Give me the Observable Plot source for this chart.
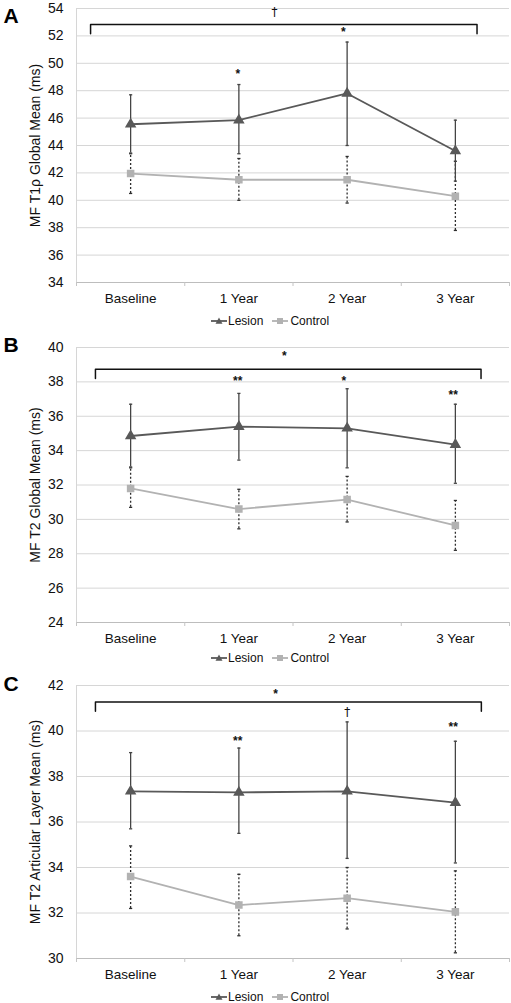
<!DOCTYPE html>
<html><head><meta charset="utf-8">
<script src="https://cdn.jsdelivr.net/npm/d3@7"></script>
<script src="https://cdn.jsdelivr.net/npm/@observablehq/plot@0.6"></script>
<style>
html,body{margin:0;padding:0;background:#fff;overflow:hidden;width:511px;height:1003px}
#wrap{position:relative;width:511px;height:1003px;font-family:"Liberation Sans",Arial,sans-serif;color:#111}
.panel{position:absolute;left:0}
.legend{position:absolute;display:flex;align-items:center;font-size:12px;line-height:14px;color:#111;white-space:nowrap}
.legend .item{display:flex;align-items:center}
.legend svg{display:block}
</style></head>
<body><div id="wrap"></div>
<script>
// ---- shared categories ----
const timepoints = ["Baseline", "1 Year", "2 Year", "3 Year"];
const groups = ["Lesion", "Control"];

// ---- Panel A: MF T1ρ Global Mean (ms) ----
const aYTicks = [34, 36, 38, 40, 42, 44, 46, 48, 50, 52, 54];
const aLesion = [45.55, 45.85, 47.8, 43.6];
const aLesionHi = [47.7, 48.45, 51.55, 45.85];
const aLesionLo = [43.45, 43.4, 44.0, 41.4];
const aControl = [41.95, 41.5, 41.5, 40.3];
const aControlHi = [43.4, 43.05, 43.2, 42.85];
const aControlLo = [40.5, 40.0, 39.8, 37.8];
const aSigLabel = ["†", "*", "*"];
const aSigX = [1.33, 0.99, 1.965];
const aSigY = [53.73, 49.42, 52.47];
const aBracket = [-0.37, 3.2, 52.83, 52.15]; // x1, x2, top, leg end

// ---- Panel B: MF T2 Global Mean (ms) ----
const bYTicks = [24, 26, 28, 30, 32, 34, 36, 38, 40];
const bLesion = [34.85, 35.4, 35.3, 34.35];
const bLesionHi = [36.7, 37.33, 37.6, 36.7];
const bLesionLo = [33.05, 33.45, 33.0, 32.1];
const bControl = [31.8, 30.6, 31.15, 29.65];
const bControlHi = [33.0, 31.75, 32.5, 31.1];
const bControlLo = [30.7, 29.45, 29.85, 28.2];
const bSigLabel = ["*", "**", "*", "**"];
const bSigX = [1.42, 0.99, 1.97, 2.98];
const bSigY = [39.65, 38.24, 38.24, 37.4];
const bBracket = [-0.325, 3.237, 38.73, 38.19];

// ---- Panel C: MF T2 Articular Layer Mean (ms) ----
const cYTicks = [30, 32, 34, 36, 38, 40, 42];
const cLesion = [37.35, 37.3, 37.35, 36.85];
const cLesionHi = [39.05, 39.25, 40.4, 39.55];
const cLesionLo = [35.7, 35.5, 34.4, 34.2];
const cControl = [33.6, 32.35, 32.65, 32.05];
const cControlHi = [34.95, 33.7, 34.0, 33.85];
const cControlLo = [32.2, 31.0, 31.3, 30.25];
const cSigLabel = ["*", "**", "†", "**"];
const cSigX = [1.34, 0.99, 2.0, 2.98];
const cSigY = [41.75, 39.68, 40.83, 40.31];
const cBracket = [-0.325, 3.24, 41.28, 40.87];

const lesionColor = "#595959";
const controlColor = "#b2b2b2";
const font = "'Liberation Sans', Arial, sans-serif";

const capSymbol = {draw(ctx, size) { const w = Math.sqrt(size) / 2; ctx.moveTo(-w, 0); ctx.lineTo(w, 0); }};

function makePanel(cfg) {
  const L = timepoints.map((t, i) => ({i, t, group: groups[0], v: cfg.lesion[i], hi: cfg.lesionHi[i], lo: cfg.lesionLo[i]}));
  const C = timepoints.map((t, i) => ({i, t, group: groups[1], v: cfg.control[i], hi: cfg.controlHi[i], lo: cfg.controlLo[i]}));
  const sig = cfg.sigLabel.map((s, k) => ({s, x: cfg.sigX[k], y: cfg.sigY[k]}));
  const [bx1, bx2, btop, bleg] = cfg.bracket;
  const bracket = [{x: bx1, y: bleg}, {x: bx1, y: btop}, {x: bx2, y: btop}, {x: bx2, y: bleg}];
  const yMin = cfg.yTicks[0], yMax = cfg.yTicks[cfg.yTicks.length - 1];
  return Plot.plot({
    width: 511,
    height: cfg.marginTop + cfg.plotHeight + cfg.marginBottom,
    marginTop: cfg.marginTop,
    marginBottom: cfg.marginBottom,
    marginLeft: 76,
    marginRight: 2,
    style: {fontFamily: font, color: "#111", background: "#fff", overflow: "visible"},
    x: {type: "linear", domain: [-0.5, 3.5]},
    y: {domain: [yMin, yMax]},
    marks: [
      Plot.gridY(cfg.yTicks, {stroke: "#d6d6d6", strokeOpacity: 1, strokeWidth: 1}),
      Plot.ruleX([-0.5], {stroke: "#d6d6d6", strokeWidth: 1}),
      Plot.ruleY([yMin], {stroke: "#bdbdbd", strokeWidth: 1.2}),
      Plot.axisX([-0.5, 0.5, 1.5, 2.5, 3.5], {tickSize: 4, stroke: "#c4c4c4", tickFormat: () => "", label: null}),
      Plot.axisX([0, 1, 2, 3], {tickSize: 0, tickPadding: 11, tickFormat: i => timepoints[i], label: null, fontSize: 13.5, fill: "#111"}),
      Plot.axisY(cfg.yTicks, {tickSize: 0, tickPadding: 13, fontSize: 14, fill: "#111", label: cfg.yLabel, labelAnchor: "center", labelArrow: false, labelOffset: 46}),
      // control error bars (dotted)
      Plot.ruleX(C, {x: "i", y1: "lo", y2: "hi", stroke: "#2e2e2e", strokeWidth: 1.3, strokeDasharray: "2,2"}),
      Plot.dot(C, {x: "i", y: "hi", symbol: capSymbol, r: 1.8, stroke: "#2e2e2e", strokeWidth: 1.3, fill: "none"}),
      Plot.dot(C, {x: "i", y: "lo", symbol: capSymbol, r: 1.8, stroke: "#2e2e2e", strokeWidth: 1.3, fill: "none"}),
      Plot.line(C, {x: "i", y: "v", stroke: controlColor, strokeWidth: 1.8}),
      Plot.dot(C, {x: "i", y: "v", symbol: "square", r: 3.4, fill: controlColor, stroke: controlColor}),
      // lesion error bars (solid)
      Plot.ruleX(L, {x: "i", y1: "lo", y2: "hi", stroke: "#444", strokeWidth: 1.3}),
      Plot.dot(L, {x: "i", y: "hi", symbol: capSymbol, r: 1.8, stroke: "#444", strokeWidth: 1.3, fill: "none"}),
      Plot.dot(L, {x: "i", y: "lo", symbol: capSymbol, r: 1.8, stroke: "#444", strokeWidth: 1.3, fill: "none"}),
      Plot.line(L, {x: "i", y: "v", stroke: lesionColor, strokeWidth: 1.8}),
      Plot.dot(L, {x: "i", y: "v", symbol: "triangle", r: 3.3, fill: lesionColor, stroke: lesionColor}),
      // significance bracket and markers
      Plot.line(bracket, {x: "x", y: "y", stroke: "#111", strokeWidth: 1.5}),
      Plot.text(sig.filter(d => d.s !== "†"), {x: "x", y: "y", text: "s", fontSize: 12, fontWeight: "bold", fill: "#111", dy: 3}),
      Plot.text(sig.filter(d => d.s === "†"), {x: "x", y: "y", text: "s", fontSize: 12, fontFamily: "'DejaVu Sans', sans-serif", fill: "#111", dy: 0}),
      // panel letter
      Plot.text([cfg.letter], {text: d => d, frameAnchor: "top-left", textAnchor: "middle", lineAnchor: "middle", dx: -65.5, dy: cfg.letterDy, fontSize: 21, fontWeight: "bold", fill: "#000"})
    ]
  });
}

function makeLegend() {
  const div = document.createElement("div");
  div.className = "legend";
  const tri = `<svg width="16" height="10"><line x1="0" y1="5" x2="16" y2="5" stroke="${lesionColor}" stroke-width="1.8"/><path d="M8,1.6L11.5,7.8L4.5,7.8Z" fill="${lesionColor}"/></svg>`;
  const sq = `<svg width="16" height="10"><line x1="0" y1="5" x2="16" y2="5" stroke="${controlColor}" stroke-width="1.8"/><rect x="5" y="2" width="6" height="6" fill="${controlColor}"/></svg>`;
  div.innerHTML = `<span class="item">${tri}<span style="margin-left:1px">${groups[0]}</span></span><span class="item" style="margin-left:9px">${sq}<span style="margin-left:2px">${groups[1]}</span></span>`;
  return div;
}

const wrap = document.getElementById("wrap");
const panels = [
  {letter: "A", yLabel: "MF T1ρ Global Mean (ms)", yTicks: aYTicks, lesion: aLesion, lesionHi: aLesionHi, lesionLo: aLesionLo,
   control: aControl, controlHi: aControlHi, controlLo: aControlLo, sigLabel: aSigLabel, sigX: aSigX, sigY: aSigY, bracket: aBracket,
   top: 0, marginTop: 8, plotHeight: 274, marginBottom: 26, letterDy: 7.5, legendY: 321},
  {letter: "B", yLabel: "MF T2 Global Mean (ms)", yTicks: bYTicks, lesion: bLesion, lesionHi: bLesionHi, lesionLo: bLesionLo,
   control: bControl, controlHi: bControlHi, controlLo: bControlLo, sigLabel: bSigLabel, sigX: bSigX, sigY: bSigY, bracket: bBracket,
   top: 333, marginTop: 14, plotHeight: 275, marginBottom: 24, letterDy: -2.5, legendY: 658},
  {letter: "C", yLabel: "MF T2 Articular Layer Mean (ms)", yTicks: cYTicks, lesion: cLesion, lesionHi: cLesionHi, lesionLo: cLesionLo,
   control: cControl, controlHi: cControlHi, controlLo: cControlLo, sigLabel: cSigLabel, sigX: cSigX, sigY: cSigY, bracket: cBracket,
   top: 670, marginTop: 15, plotHeight: 273, marginBottom: 22, letterDy: -1, legendY: 997}
];
for (const cfg of panels) {
  const svg = makePanel(cfg);
  svg.classList.add("panel");
  svg.style.position = "absolute";
  svg.style.top = cfg.top + "px";
  svg.style.left = "0px";
  wrap.appendChild(svg);
  const lg = makeLegend();
  lg.style.left = "211px";
  lg.style.top = (cfg.legendY - 7) + "px";
  wrap.appendChild(lg);
}
</script>
</body></html>
